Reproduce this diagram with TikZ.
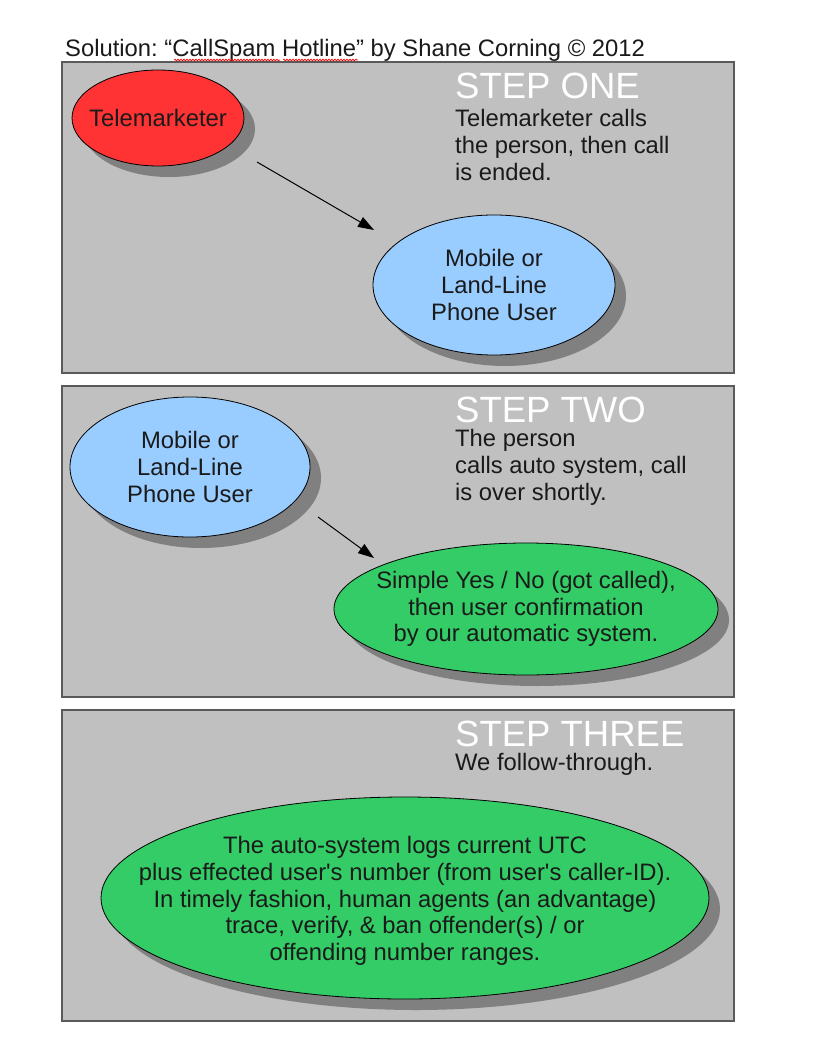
\documentclass[tikz,border=0pt]{standalone}
\usepackage{fontspec}
\setmainfont{Liberation Sans}
\usetikzlibrary{shapes.geometric,shadows,arrows.meta,decorations.pathmorphing}
\definecolor{panelgray}{HTML}{C0C0C0}
\definecolor{panelline}{HTML}{5A5A5A}
\definecolor{shadowgray}{HTML}{808080}
\definecolor{telered}{HTML}{FF3333}
\definecolor{userblue}{HTML}{99CCFF}
\definecolor{sysgreen}{HTML}{33CC66}
\definecolor{inktext}{HTML}{1A1A1A}
\frenchspacing
\begin{document}
\begin{tikzpicture}[x=1pt,y=-1pt,
  bodyfont/.style={font=\fontsize{23.8}{26.8}\selectfont, text=inktext},
  panel/.style={draw=panelline, fill=panelgray, line width=1.2pt},
  bubble/.style={ellipse, draw=black, line width=0.8pt, inner sep=0pt,
    drop shadow={shadow xshift=11pt, shadow yshift=-11pt, fill=shadowgray, opacity=1}},
  bubbletext/.style={bodyfont, align=center, inner sep=0pt},
  steplabel/.style={font=\fontsize{36.5}{40}\selectfont, text=white, anchor=base west, inner sep=0pt},
  sidetext/.style={bodyfont, align=left, anchor=north west, inner sep=0pt},
  flow/.style={line width=1pt, -{Triangle[length=16pt,width=11pt]}},
  spell/.style={draw=red, line width=0.7pt, decorate,
    decoration={snake, amplitude=0.9pt, segment length=3pt}}]
\path[use as bounding box, fill=white] (0,0) rectangle (816,1056);

% panels
\draw[panel] (62,62) rectangle (734,373);
\draw[panel] (62,386) rectangle (734,697);
\draw[panel] (62,710) rectangle (734,1021);

% title
\node[bodyfont, anchor=base west, inner sep=0pt] (title) at (65,57)
  {Solution: “CallSpam Hotline” by Shane Corning © 2012};
\coordinate (u1a) at (174,60);
\coordinate (u1b) at (280,60);
\coordinate (u2a) at (283,60);
\coordinate (u2b) at (358,60);
\draw[spell] (u1a) -- (u1b);
\draw[spell] (u2a) -- (u2b);

% STEP ONE
\node[steplabel] (s1) at (455,99) {STEP ONE};
\node[sidetext] (s1t) at (455,109) {Telemarketer calls\\the person, then call\\is ended.};
\node[bubble, fill=telered, minimum width=172pt, minimum height=96pt] (tele) at (158,118) {};
\node[bubbletext] (teletext) at (tele.center) {Telemarketer};
\node[bubble, fill=userblue, minimum width=242pt, minimum height=140pt] (mob1) at (494,285) {};
\node[bubbletext] (mob1text) at (mob1.center) {Mobile or\\Land-Line\\Phone User};
\coordinate (a1s) at (257,162);
\coordinate (a1e) at (374,230);
\draw[flow] (a1s) -- (a1e);

% STEP TWO
\node[steplabel] (s2) at (455,422) {STEP TWO};
\node[sidetext] (s2t) at (455,429) {The person\\calls auto system, call\\is over shortly.};
\node[bubble, fill=userblue, minimum width=240pt, minimum height=140pt] (mob2) at (190,467) {};
\node[bubbletext] (mob2text) at (mob2.center) {Mobile or\\Land-Line\\Phone User};
\node[bubble, fill=sysgreen, minimum width=384pt, minimum height=132pt] (sys2) at (526,609) {};
\node[bubbletext] (sys2text) at (sys2.center) {Simple Yes / No (got called),\\then user confirmation\\by our automatic system.};
\coordinate (a2s) at (318,517);
\coordinate (a2e) at (374,558);
\draw[flow] (a2s) -- (a2e);

% STEP THREE
\node[steplabel] (s3) at (455,746) {STEP THREE};
\node[sidetext] (s3t) at (455,753) {We follow-through.};
\node[bubble, fill=sysgreen, minimum width=608pt, minimum height=202pt] (sys3) at (405,898) {};
\node[bubbletext] (sys3text) at ([yshift=-3pt]sys3.center) {The auto-system logs current UTC\\plus effected user\textquotesingle s number (from user\textquotesingle s caller-ID).\\In timely fashion, human agents (an advantage)\\trace, verify, \& ban offender(s) / or\\offending number ranges.};
\end{tikzpicture}
\end{document}
